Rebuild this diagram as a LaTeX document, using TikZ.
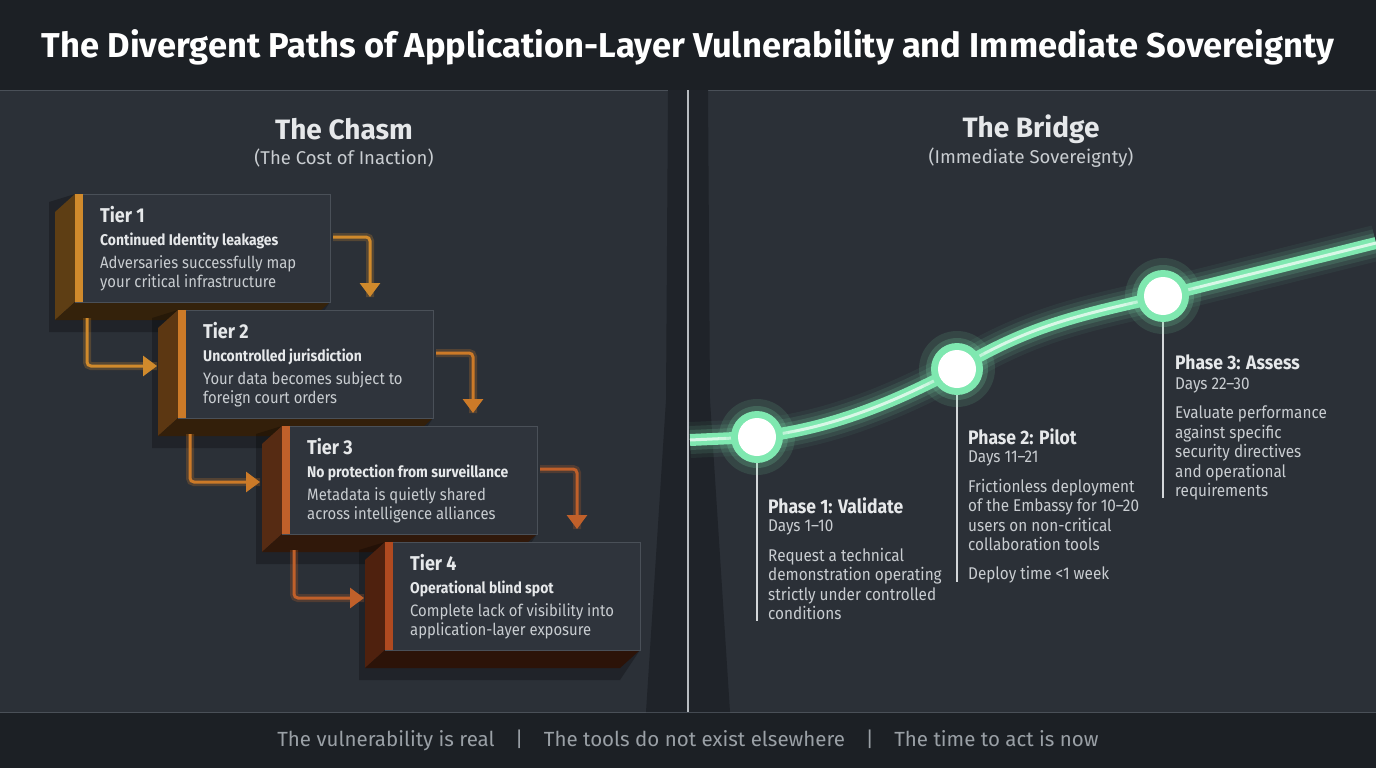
\documentclass[tikz,border=0pt]{standalone}
\usepackage{fontspec}
\setmainfont{Fira Sans}
\newfontfamily\cond{Fira Sans}[FakeStretch=0.9]
\usetikzlibrary{arrows.meta}
\definecolor{bg}{HTML}{2B3037}
\definecolor{band}{HTML}{1C2025}
\definecolor{boxc}{HTML}{2F343C}
\definecolor{edgec}{HTML}{4A5058}
\definecolor{gl}{HTML}{7FE8B0}
\definecolor{txt}{HTML}{E6E8EA}
\definecolor{sub}{HTML}{C9CDD1}
\definecolor{fg}{HTML}{9AA0A6}
\definecolor{oA}{HTML}{D08A2C}
\definecolor{oB}{HTML}{CC7A28}
\definecolor{oC}{HTML}{C0602A}
\definecolor{oD}{HTML}{B04A20}
\tikzset{
 tt/.style={anchor=north west,text=txt,inner sep=0pt,font=\cond\bfseries\fontsize{20}{22}\selectfont},
 ts/.style={anchor=north west,text=txt,inner sep=0pt,font=\cond\bfseries\fontsize{15.5}{18}\selectfont},
 tb/.style={anchor=north west,text=sub,inner sep=0pt,align=left,font=\cond\fontsize{16.5}{19}\selectfont},
 arr/.style={line width=3pt,-{Triangle[length=14pt,width=20pt]},rounded corners=4pt},
 pt/.style={anchor=north west,text=txt,inner sep=0pt,font=\cond\bfseries\fontsize{19.5}{22}\selectfont},
 pd/.style={anchor=north west,text=sub,inner sep=0pt,font=\cond\fontsize{17}{20}\selectfont},
 pb/.style={anchor=north west,text=sub,inner sep=0pt,align=left,font=\cond\fontsize{17}{19.5}\selectfont},
 vline/.style={draw=sub!80,line width=1.2pt},
 bridge/.style={line join=round},
}
\begin{document}
\begin{tikzpicture}[x=1pt,y=-1pt]
\useasboundingbox (0,0) rectangle (1376,768);
\fill[bg] (0,0) rectangle (1376,768);
\fill[band] (0,0) rectangle (1376,90);
\fill[band] (0,712) rectangle (1376,768);
\draw[edgec,line width=1pt] (0,90)--(1376,90) (0,712)--(1376,712);
% chasm
\fill[band!80!bg] (668,90) -- (708,90) -- (710,400) -- (730,712) -- (646,712) -- (666,400) -- cycle;
\draw[fg!70,line width=1.2pt] (688,90)--(688,712);
\node[text=white,font=\bfseries\fontsize{34.5}{38}\selectfont] (title) at (688,47) {The Divergent Paths of Application-Layer Vulnerability and Immediate Sovereignty};
\node[text=txt,font=\bfseries\fontsize{28}{30}\selectfont] (h1) at (344,129) {The Chasm};
\node[text=sub,font=\fontsize{18.5}{20}\selectfont] (s1) at (344,158) {(The Cost of Inaction)};
\node[text=txt,font=\bfseries\fontsize{28}{30}\selectfont] (h2) at (1031,129) {The Bridge};
\node[text=sub,font=\fontsize{18.5}{20}\selectfont] (s2) at (1031,158) {(Immediate Sovereignty)};
% tiers
\foreach \i/\x/\y/\c in {1/75/194/oA,2/178/310/oB,3/282/426/oC,4/385/542/oD}{
  \fill[black,opacity=0.25] (\x-26,\y+8) -- (\x,\y) -- (\x+255,\y+108) -- (\x+235,\y+138) -- (\x-26,\y+138) -- cycle;
  \fill[\c!45!black] (\x-20,\y+18) -- (\x,\y) -- (\x,\y+108) -- (\x-20,\y+126) -- cycle;
  \fill[\c!25!black] (\x-20,\y+126) -- (\x,\y+108) -- (\x+255,\y+108) -- (\x+235,\y+126) -- cycle;
  \fill[boxc] (\x,\y) rectangle (\x+255,\y+108);
  \draw[edgec,line width=1pt] (\x,\y) rectangle (\x+255,\y+108);
  \fill[\c] (\x,\y) rectangle (\x+8,\y+108);
}
\node[tt] (t1) at (100,206) {Tier 1};
\node[ts] (t1s) at (100,233) {Continued Identity leakages};
\node[tb] (t1b) at (100,255) {Adversaries successfully map\\your critical infrastructure};
\node[tt] (t2) at (203,322) {Tier 2};
\node[ts] (t2s) at (203,349) {Uncontrolled jurisdiction};
\node[tb] (t2b) at (203,371) {Your data becomes subject to\\foreign court orders};
\node[tt] (t3) at (307,438) {Tier 3};
\node[ts] (t3s) at (307,465) {No protection from surveillance};
\node[tb] (t3b) at (307,487) {Metadata is quietly shared\\across intelligence alliances};
\node[tt] (t4) at (410,554) {Tier 4};
\node[ts] (t4s) at (410,581) {Operational blind spot};
\node[tb] (t4b) at (410,603) {Complete lack of visibility into\\application-layer exposure};
% arrows
\foreach \x/\y/\c in {75/194/oA,178/310/oB,282/426/oC}{
  \coordinate (ra) at (\x+258,\y+43);
  \coordinate (rb) at (\x+295,\y+103);
  \coordinate (la) at (\x+12,\y+124);
  \coordinate (lb) at (\x+82,\y+172);
  \draw[arr,\c,opacity=0.25,line width=8pt,-] (ra) -| (rb);
  \draw[arr,\c] (ra) -| (rb);
  \draw[arr,\c,opacity=0.25,line width=8pt,-] (la) |- (lb);
  \draw[arr,\c] (la) |- (lb);
}
% bridge
\coordinate (b0) at (690,440);
\coordinate (p1) at (757,437);
\coordinate (p2) at (957,369);
\coordinate (p3) at (1163,296);
\coordinate (b4) at (1376,243);
\foreach \w/\o in {36/0.06,28/0.1,20/0.15}{\draw[bridge,gl,line width=\w pt,opacity=\o] (b0) -- (p1) .. controls (820,430) and (880,410) .. (p2) .. controls (1030,325) and (1080,315) .. (p3) -- (b4);}
\draw[bridge,gl,line width=12pt] (b0) -- (p1) .. controls (820,430) and (880,410) .. (p2) .. controls (1030,325) and (1080,315) .. (p3) -- (b4);
\draw[bridge,white!70!gl,line width=3pt] (b0) -- (p1) .. controls (820,430) and (880,410) .. (p2) .. controls (1030,325) and (1080,315) .. (p3) -- (b4);
\draw[vline] (757,462) -- (757,621);
\draw[vline] (957,394) -- (957,582);
\draw[vline] (1163,321) -- (1163,498);
\foreach \p in {p1,p2,p3}{
  \fill[gl,opacity=0.12] (\p) circle (38);
  \fill[gl,opacity=0.18] (\p) circle (31);
  \fill[gl] (\p) circle (26);
  \fill[white] (\p) circle (19);
}
\node[pt] (q1) at (768,497) {Phase 1: Validate};
\node[pd] (q1d) at (768,520) {Days 1–10};
\node[pb] (q1b) at (768,548) {Request a technical\\demonstration operating\\strictly under controlled\\conditions};
\node[pt] (q2) at (968,428) {Phase 2: Pilot};
\node[pd] (q2d) at (968,451) {Days 11–21};
\node[pb] (q2b) at (968,479) {Frictionless deployment\\of the Embassy for 10–20\\users on non-critical\\collaboration tools};
\node[pd] (q2e) at (968,566) {Deploy time <1 week};
\node[pt] (q3) at (1175,355) {Phase 3: Assess};
\node[pd] (q3d) at (1175,378) {Days 22–30};
\node[pb] (q3b) at (1175,406) {Evaluate performance\\against specific\\security directives\\and operational\\requirements};
\node[text=fg,font=\fontsize{20.5}{24}\selectfont] (foot) at (688,740) {The vulnerability is real\quad |\quad The tools do not exist elsewhere\quad |\quad The time to act is now};
\end{tikzpicture}
\end{document}
